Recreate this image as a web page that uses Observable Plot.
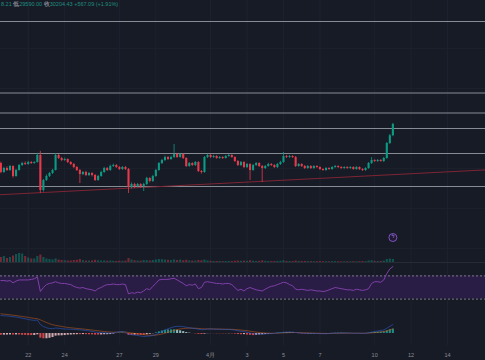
<!DOCTYPE html>
<html><head><meta charset="utf-8">
<script src="https://cdn.jsdelivr.net/npm/d3@7"></script>
<script src="https://cdn.jsdelivr.net/npm/@observablehq/plot@0.6"></script>
<style>
html,body{margin:0;padding:0;background:#171b26;}
#chart{position:relative;width:485px;height:360px;overflow:hidden;background:#171b26;font-family:"Liberation Sans",Arial,sans-serif;}
#chart svg{position:absolute;left:0;}
#hdr{position:absolute;left:1px;top:1px;font-size:5.5px;line-height:7px;color:#1f8f80;white-space:nowrap;z-index:5;}
#hdr .k{color:#b9bcc4;}
</style></head><body><div id="chart"><div id="hdr"></div></div>
<script>
// ---- data (4h candles, day 0 = the "22" tick) ----
const candleStartDay = -1.5;
const candlesPerDay = 6;
const opens = [
 28250,27800,28000,27900,28100,27600,27900,28150,28250,28200,
 28300,28250,28300,28650,26900,27400,27600,27750,27900,28650,
 28500,28400,28450,28300,28200,28050,27900,27700,27800,27650,
 27750,27650,27400,27600,27800,28000,27900,28100,28150,28050,
 27950,28050,27950,27050,27200,27100,27200,27100,27200,27500,
 27350,27600,27900,28250,28400,28550,28450,28550,28700,28550,
 28700,28500,28100,28250,28150,28300,27850,27800,28550,28650,
 28550,28600,28500,28550,28500,28600,28650,28550,28350,28150,
 28300,28050,28200,27900,28150,28250,28100,28000,28100,28200,
 28150,28050,28200,28300,28600,28550,28600,28550,28100,28200,
 28100,28000,28100,28000,28100,28050,27950,27900,28000,27950,
 28050,28100,28050,28000,28050,28000,28050,27950,28050,27950,
 27900,28000,28250,28400,28350,28400,28350,28500,29250,29637.09];
const closes = [
 27800,28000,27900,28100,27600,27900,28150,28250,28200,28300,
 28250,28300,28650,26900,27400,27600,27750,27900,28650,28500,
 28400,28450,28300,28200,28050,27900,27700,27800,27650,27750,
 27650,27400,27600,27800,28000,27900,28100,28150,28050,27950,
 28050,27950,27050,27200,27100,27200,27100,27200,27500,27350,
 27600,27900,28250,28400,28550,28450,28550,28700,28550,28700,
 28500,28100,28250,28150,28300,27850,27800,28550,28650,28550,
 28600,28500,28550,28500,28600,28650,28550,28350,28150,28300,
 28050,28200,27900,28150,28250,28100,28000,28100,28200,28150,
 28050,28200,28300,28600,28550,28600,28550,28100,28200,28100,
 28000,28100,28000,28100,28050,27950,27900,28000,27950,28050,
 28100,28050,28000,28050,28000,28050,27950,28050,27950,27900,
 28000,28250,28400,28350,28400,28350,28500,29250,29637.09,30204.43];
const highs = [
 28320,28060,28080,28150,28130,27960,28200,28310,28330,28360,
 28350,28340,28760,28860,27450,27680,27800,27960,28750,28700,
 28560,28520,28480,28340,28250,28100,27950,27850,27860,27800,
 27790,27700,27660,27860,28060,28050,28170,28220,28200,28100,
 28100,28100,28000,27280,27260,27250,27240,27260,27560,27540,
 27660,27960,28300,28460,28620,28600,28620,29200,28760,28760,
 28740,28540,28300,28290,28350,28340,27900,28600,28720,28700,
 28660,28640,28600,28590,28650,28700,28690,28590,28400,28350,
 28340,28250,28240,28200,28300,28290,28150,28150,28260,28250,
 28190,28250,28360,28800,28660,28650,28640,28600,28250,28240,
 28150,28150,28140,28140,28140,28090,27990,28050,28040,28090,
 28150,28140,28090,28090,28090,28090,28080,28090,28080,27990,
 28040,28300,28550,28440,28450,28440,28560,29300,29700,30258.21];
const lows = [
 27740,27760,27850,27860,27520,27560,27870,28100,28150,28160,
 28200,28210,28270,26750,26820,27350,27550,27700,27880,28450,
 28340,28360,28250,28140,27990,27850,27250,27640,27600,27600,
 27580,27350,27360,27560,27760,27850,27860,28050,28000,27900,
 27900,27900,26750,26980,27000,27040,27020,26850,27150,27280,
 27300,27560,27860,28200,28350,28400,28410,28500,28500,28520,
 28450,28050,28060,28100,28100,27800,27720,27760,28500,28500,
 28510,28460,28460,28450,28470,28560,28510,28300,28100,28100,
 28000,28000,27400,27860,28100,28050,27300,27950,28060,28100,
 28000,28000,28150,28260,28500,28510,28500,28050,28060,28050,
 27950,27960,27950,27960,28000,27900,27860,27860,27910,27910,
 28010,28000,27960,27960,27960,27960,27910,27910,27900,27850,
 27860,27960,28200,28300,28310,28310,28300,28460,29200,29590];
const volumes = [
 5000,6000,4000,5000,6500,8000,9000,8500,6000,4500,
 3500,3500,6000,7500,5000,3500,3000,2500,3500,2500,
 2000,1800,1500,1500,2000,2200,3000,1800,1500,1400,
 1600,2200,1800,1500,1600,1300,1500,1200,1100,1300,
 1200,1400,4000,2500,1800,1500,1400,2000,1800,1500,
 2000,2500,3000,2800,2500,2200,2000,2600,2000,2500,
 1800,2200,1600,1500,1400,2000,1800,2500,1600,1200,
 1100,1000,1000,900,1000,1100,1000,1300,1500,1200,
 1400,1200,1800,1300,1100,1200,1700,1200,1000,900,
 1000,1100,1200,1800,1100,1000,900,1500,1100,1000,
 1100,900,900,800,800,900,800,800,700,800,
 900,800,700,700,800,700,800,700,800,900,
 800,1500,1800,1200,1000,1100,1400,3000,3500,3000];
const rsi = [
 62,62,61,62,58,61,63,63,63,63,
 64,65,68,43,50,55,57,58,60,58,
 57,57,56,55,52,50,49,50,48,47,
 46,44,48,50,53,55,55,56,55,55,
 56,55,39,41,40,42,41,44,48,46,
 52,57,63,64,64,64,65,66,63,60,
 57,53,55,54,56,48,50,59,60,59,
 58,57,57,56,57,57,55,50,45,47,
 44,48,50,48,46,45,44,47,50,52,
 53,55,57,59,58,55,53,47,46,47,
 46,45,46,45,44,44,43,44,46,48,
 50,49,48,47,46,46,45,47,46,45,
 46,48,57,60,60,59,63,74,82,86];
const macdLine = [
 360,355,350,345,335,330,320,305,295,280,
 270,262,270,180,140,115,100,95,110,105,
 95,90,88,85,82,78,72,68,60,52,
 42,30,22,18,15,10,8,15,25,35,
 40,25,-15,-25,-30,-40,-50,-60,-55,-50,
 -40,-20,10,40,70,95,115,135,142,145,
 138,125,115,105,98,85,75,80,88,90,
 88,85,84,82,80,80,76,68,55,45,
 40,25,10,-5,-6,-8,-10,-8,-4,0,
 5,12,18,26,28,30,28,20,15,8,
 5,4,3,2,0,-2,-4,-3,0,5,
 8,10,10,9,8,8,6,6,5,4,
 5,14,28,40,50,60,72,105,145,180];
const signalLine = [
 394,388,381,374,366,359,350,341,332,322,
 312,302,296,273,246,220,196,176,163,152,
 141,131,122,115,108,102,96,90,84,77,
 70,62,54,47,40,34,29,26,26,28,
 30,29,20,11,3,-6,-15,-24,-30,-34,
 -35,-32,-23,-10,6,24,42,61,77,91,
 100,105,107,107,105,101,96,93,92,92,
 91,90,89,88,86,85,83,80,75,69,
 63,56,47,37,28,21,15,10,7,5,
 5,6,9,12,15,18,20,20,19,17,
 14,12,10,8,6,4,2,1,1,2,
 3,4,5,6,6,7,7,7,6,6,
 6,8,12,18,24,31,39,52,71,93];
const macdHist = [
 -34,-33,-31,-29,-31,-29,-30,-36,-37,-42,
 -42,-40,-26,-93,-106,-105,-96,-81,-53,-47,
 -46,-41,-34,-30,-26,-24,-24,-22,-24,-25,
 -28,-32,-32,-29,-25,-24,-21,-11,-1,7,
 10,-4,-35,-36,-33,-34,-35,-36,-25,-16,
 -5,12,33,50,64,71,73,74,65,54,
 38,20,8,-2,-7,-16,-21,-13,-4,-2,
 -3,-5,-5,-6,-6,-5,-7,-12,-20,-24,
 -23,-31,-37,-42,-34,-29,-25,-18,-11,-5,
 0,6,9,14,13,12,8,0,-4,-9,
 -9,-8,-7,-6,-6,-6,-6,-4,-1,3,
 5,6,5,3,2,1,-1,-1,-1,-2,
 -1,6,16,22,26,29,33,53,74,87];
const levelPrices = [35350, 31775, 30775, 30000, 28750, 27100];
const gridPrices = [34000, 32000, 28000, 26000, 24000];
const trendDays = [-1.52, 25.08];
const trendPrices = [26690, 27930];
const eventDays = [20];
const rsiBands = [70, 30];
const tickDays = [0, 2, 5, 7, 10, 12, 14, 16, 19, 21, 23];
const tickLabels = ["22", "24", "27", "29", "4月", "3", "5", "7", "10", "12", "14"];
const headerParts = [["", "8.21 "], ["低", "29590.00 "], ["收", "30204.43 "], ["", "+567.09 (+1.91%)"]];

// ---- build ----
const W = 485;
const xDomain = [-1.52, 25.08];
const up = "#0b9a83", down = "#e8394a";
const candles = opens.map((o, i) => ({
  day: candleStartDay + i / candlesPerDay, open: o, high: highs[i], low: lows[i], close: closes[i],
  volume: volumes[i], rsi: rsi[i], macd: macdLine[i], signal: signalLine[i], hist: macdHist[i],
  histColor: macdHist[i] >= 0
    ? (i === 0 || macdHist[i] >= macdHist[i - 1] ? "#26a69a" : "#b2dfdb")
    : (i === 0 || macdHist[i] <= macdHist[i - 1] ? "#ff5252" : "#ffcdd2")
}));
const colorOf = d => d.close >= d.open ? up : down;
const chart = document.getElementById("chart");
const baseStyle = {background: "transparent", overflow: "visible", fontFamily: "Liberation Sans, Arial, sans-serif"};
const common = {width: W, marginLeft: 0, marginRight: 0, marginTop: 0, marginBottom: 0,
  x: {domain: xDomain, axis: null}, color: {type: "identity"}, style: baseStyle};
function place(svg, top) { svg.style.position = "absolute"; svg.style.top = top + "px"; svg.style.left = "0px"; chart.appendChild(svg); }

// header
const hdr = document.getElementById("hdr");
headerParts.forEach(([k, v]) => {
  if (k) { const s = document.createElement("span"); s.className = "k"; s.textContent = k; hdr.appendChild(s); }
  hdr.appendChild(document.createTextNode(v));
});

// vertical grid
place(Plot.plot({...common, height: 345, y: {domain: [0, 1], axis: null},
  marks: [Plot.ruleX(tickDays, {stroke: "#1e2230", strokeWidth: 1})]}), 0);

// main price pane
place(Plot.plot({...common, height: 262, y: {domain: [23300, 36400], axis: null},
  marks: [
    Plot.ruleY(gridPrices, {stroke: "#1c202b"}),
    Plot.ruleY(levelPrices, {stroke: "#a4a7b0", strokeWidth: 1, strokeOpacity: 0.8}),
    Plot.line(trendDays.map((d, i) => ({day: d, price: trendPrices[i]})), {x: "day", y: "price", stroke: "#7e2534", strokeWidth: 1}),
    Plot.ruleX(candles, {x: "day", y1: "low", y2: "high", stroke: colorOf, strokeWidth: 0.8}),
    Plot.ruleX(candles, {x: "day", y1: "open", y2: "close", stroke: colorOf, strokeWidth: 2.1}),
    Plot.dot(eventDays, {x: d => d, frameAnchor: "bottom", dy: -25, r: 4, stroke: "#7f52c4", strokeWidth: 1, fill: "#211a34"}),
    Plot.text(eventDays, {x: d => d, frameAnchor: "bottom", dy: -25, text: () => "ϟ", fill: "#9a78d8", fontSize: 5.5})
  ]}), 0);

// volume overlay
place(Plot.plot({...common, height: 31, marginBottom: 1, y: {domain: [0, 30000], axis: null},
  marks: [
    Plot.ruleY([0], {stroke: "#272b36"}),
    Plot.ruleX(candles, {x: "day", y1: 0, y2: "volume", stroke: colorOf, strokeOpacity: 0.45, strokeWidth: 2.1})
  ]}), 232);

// RSI pane
place(Plot.plot({...common, height: 58, y: {domain: [0, 100], axis: null},
  marks: [
    Plot.rect([{lo: rsiBands[1], hi: rsiBands[0]}], {y1: "lo", y2: "hi", fill: "#291d45"}),
    Plot.ruleY(rsiBands, {stroke: "#7a7d88", strokeDasharray: "2,2", strokeWidth: 1}),
    Plot.line(candles, {x: "day", y: "rsi", stroke: "#7f3fa8", strokeWidth: 1})
  ]}), 258);

// MACD pane + x axis
place(Plot.plot({...common, height: 57, marginBottom: 17, y: {domain: [-240, 560], axis: null},
  style: {...baseStyle, fontSize: "5.5px", color: "#8b8e97"},
  marks: [
    Plot.ruleX(candles, {x: "day", y1: 0, y2: "hist", stroke: "histColor", strokeOpacity: 0.8, strokeWidth: 2.1}),
    Plot.line(candles, {x: "day", y: "signal", stroke: "#e0651a", strokeOpacity: 0.6, strokeWidth: 0.8}),
    Plot.line(candles, {x: "day", y: "macd", stroke: "#2f62e0", strokeOpacity: 0.65, strokeWidth: 0.8}),
    Plot.axisX({ticks: tickDays, tickFormat: d => tickLabels[tickDays.indexOf(d)], tickSize: 0, tickPadding: 8, label: null, fill: "#8b8e97", fontSize: 5.5})
  ]}), 305);
</script>
</body></html>
